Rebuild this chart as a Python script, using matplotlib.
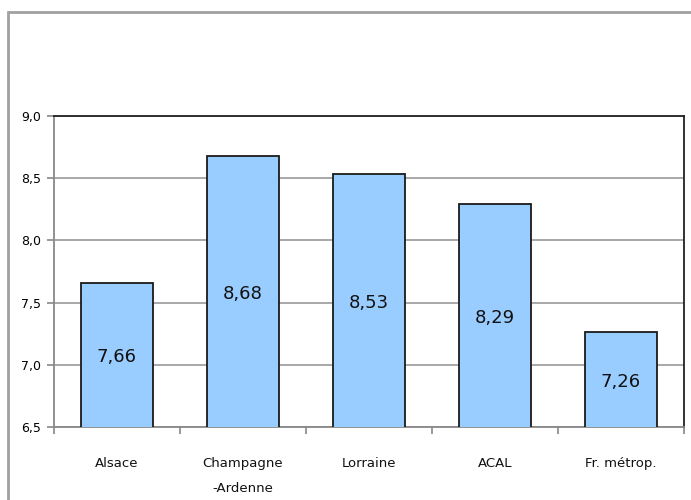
import matplotlib
matplotlib.use("Agg")
import matplotlib.pyplot as plt
from matplotlib.patches import Rectangle
import numpy as np

categories = ["Alsace", "Champagne\n-Ardenne", "Lorraine", "ACAL", "Fr. métrop."]
values = [7.66, 8.68, 8.53, 8.29, 7.26]
value_labels = ["7,66", "8,68", "8,53", "8,29", "7,26"]
yticks = [6.5, 7.0, 7.5, 8.0, 8.5, 9.0]
ytick_labels = ["6,5", "7,0", "7,5", "8,0", "8,5", "9,0"]

W, H = 691, 500
fig = plt.figure(figsize=(W / 100, H / 100), dpi=100)

# outer chart frame
fig.patches.append(Rectangle((8 / W, -0.1), 1.2, (500 - 12) / H + 0.1,
                             transform=fig.transFigure, fill=False,
                             edgecolor="#a0a0a0", linewidth=2))

ax = fig.add_axes([54 / W, (H - 427) / H, (684 - 54) / W, (427 - 116) / H])
x = np.arange(len(categories))
ax.bar(x, values, width=0.57, bottom=0, color="#99ccff",
       edgecolor="#1a1a1a", linewidth=1.3, zorder=3)
ax.set_xlim(-0.5, len(categories) - 0.5)
ax.set_ylim(6.5, 9.0)

for xi, v, lab in zip(x, values, value_labels):
    ax.text(xi, (6.5 + v) / 2 - 0.02, lab, ha="center", va="center",
            fontsize=13, color="#111111", zorder=4)

ax.set_yticks(yticks)
ax.set_yticklabels(ytick_labels, fontsize=9)
ax.yaxis.grid(True, color="#999999", linewidth=1.2, zorder=0)
ax.set_axisbelow(True)

ax.set_xticks(np.arange(-0.5, len(categories), 1.0))
ax.set_xticklabels([])
ax.tick_params(axis="x", which="major", length=5, color="#888888", width=1.2)
ax.tick_params(axis="y", length=5, color="#888888", width=1.2, pad=4)

# category names under the bars
for xi, name in zip(x, categories):
    ax.annotate(name, xy=(xi, 0), xycoords=("data", "axes fraction"),
                xytext=(0, -21.5), textcoords="offset points",
                ha="center", va="top", fontsize=9.5, linespacing=2.25,
                color="#111111", annotation_clip=False)

for side in ("left", "bottom"):
    ax.spines[side].set_color("#888888")
    ax.spines[side].set_linewidth(1.3)
for side in ("top", "right"):
    ax.spines[side].set_color("#222222")
    ax.spines[side].set_linewidth(1.3)

fig.savefig("out.png", dpi=100)
